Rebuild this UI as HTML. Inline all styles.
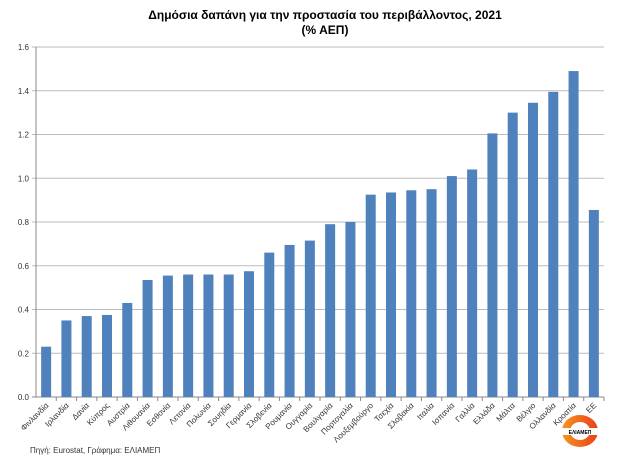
<!DOCTYPE html>
<html><head><meta charset="utf-8"><style>
body{margin:0;background:#fff;font-family:"Liberation Sans","DejaVu Sans",sans-serif}
svg text{font-family:"Liberation Sans","DejaVu Sans",sans-serif}
</style></head><body>
<svg width="624" height="468" viewBox="0 0 624 468">
<text x="325" y="19" text-anchor="middle" font-size="12" font-weight="bold" fill="#000">Δημόσια δαπάνη για την προστασία του περιβάλλοντος, 2021</text>
<text x="325" y="34" text-anchor="middle" font-size="12" font-weight="bold" fill="#000">(% ΑΕΠ)</text>
<g id="grid"></g><g id="bars"></g><g id="xl"></g>
<text x="30" y="453" font-size="8" fill="#333">Πηγή:  Eurostat, Γράφημα: ΕΛΙΑΜΕΠ</text>
<g>
<defs><linearGradient id="lg" x1="0" x2="1"><stop offset="0" stop-color="#f7941d"/><stop offset="1" stop-color="#e8401c"/></linearGradient></defs>
<ellipse cx="580" cy="431" rx="18" ry="16" fill="url(#lg)"/>
<ellipse cx="580" cy="431" rx="10" ry="9" fill="#fff"/>
<rect x="562" y="428" width="36" height="7" fill="#fff"/>
<text x="580" y="434" text-anchor="middle" font-size="5" font-weight="bold" fill="#000">ΕΛΙΑΜΕΠ</text>
</g>
</svg>
<script>
const categories=["Φινλανδία","Ιρλανδία","Δανία","Κύπρος","Αυστρία","Λιθουανία","Εσθονία","Λετονία","Πολωνία","Σουηδία","Γερμανία","Σλοβενία","Ρουμανία","Ουγγαρία","Βουλγαρία","Πορτογαλία","Λουξεμβούργο","Τσεχία","Σλοβακία","Ιταλία","Ισπανία","Γαλλία","Ελλάδα","Μάλτα","Βέλγιο","Ολλανδία","Κροατία","ΕΕ"];
const values=[0.23,0.35,0.37,0.375,0.43,0.535,0.555,0.56,0.56,0.56,0.575,0.66,0.695,0.715,0.79,0.80,0.925,0.935,0.945,0.95,1.01,1.04,1.205,1.30,1.345,1.395,1.49,0.855];
const ticks=[0,0.2,0.4,0.6,0.8,1.0,1.2,1.4,1.6];
const NS="http://www.w3.org/2000/svg";
const x0=36,x1=604,yTop=47,yBot=397;
const y=v=>yBot-(v/1.6)*(yBot-yTop);
const bw=(x1-x0)/categories.length;
const xc=i=>x0+bw*(i+0.5);
function mk(t,a,p){const e=document.createElementNS(NS,t);for(const k in a)e.setAttribute(k,a[k]);p.appendChild(e);return e;}
const G=document.getElementById('grid'),B=document.getElementById('bars'),X=document.getElementById('xl');
ticks.forEach(t=>{
 const l=mk('line',{x1:x0-4,x2:x1,y1:y(t),y2:y(t),stroke:t===0?'#888':'#bbb','stroke-width':1},G);
 
 
 const tx=mk('text',{x:x0-7,y:y(t)+3,'text-anchor':'end','font-size':8,fill:'#333'},G);
 tx.textContent=t.toFixed(1);
 
 
});
const ax=mk('line',{x1:x0,x2:x0,y1:yTop,y2:yBot,stroke:'#888'},G);


categories.forEach((c,i)=>{
 const r=mk('rect',{x:xc(i)-5,y:y(values[i]),width:10,height:yBot-y(values[i]),fill:'#4f81bd'},B);
 
 
 const tk=mk('line',{x1:x0+bw*(i+1),x2:x0+bw*(i+1),y1:yBot,y2:yBot+4,stroke:'#888'},G);
 
 
 const t=mk('text',{x:xc(i)+3,y:yBot+9,'text-anchor':'end','font-size':8,fill:'#333',transform:`rotate(-45 ${xc(i)+3} ${yBot+9})`},X);
 t.textContent=c;
 
 
});
</script>
</body></html>
